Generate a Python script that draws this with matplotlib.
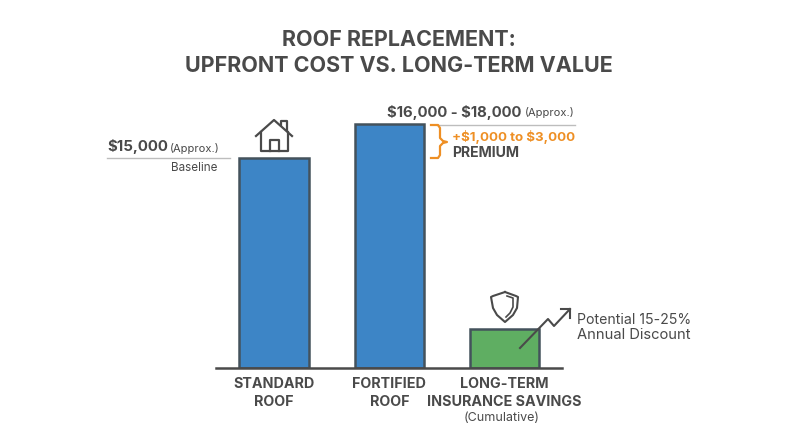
import matplotlib
matplotlib.use('Agg')
import matplotlib.pyplot as plt

plt.rcParams['font.family'] = ['Inter', 'DejaVu Sans']

categories = ['STANDARD\nROOF', 'FORTIFIED\nROOF', 'LONG-TERM\nINSURANCE SAVINGS']
values = [15000, 17400, 2800]
bar_colors = ['#3d85c6', '#3d85c6', '#5fae62']
dark = '#4a4a4a'
edge = '#44525c'
orange = '#ee8f24'
grey_line = '#bdbdbd'

W, H = 800, 447
fig = plt.figure(figsize=(8, 4.47), dpi=100)

# bar axes, baseline at y=368 px
ax = fig.add_axes([216.3 / W, (H - 368) / H, 346 / W, 268 / H])
ax.bar(range(3), values, width=0.6, color=bar_colors, edgecolor=edge, linewidth=1.8, zorder=2)
ax.set_xlim(-0.5, 2.5)
ax.set_ylim(0, 268 * 71.43)
ax.set_yticks([])
ax.set_xticks(range(3))
ax.set_xticklabels(categories, fontsize=10.3, fontweight='bold', color=dark, linespacing=1.35)
ax.tick_params(axis='x', length=0, pad=6.5)
for s in ['top', 'left', 'right']:
    ax.spines[s].set_visible(False)
ax.spines['bottom'].set_color(dark)
ax.spines['bottom'].set_linewidth(1.8)
ax.patch.set_alpha(0)

# overlay in pixel coordinates for the notes and icons
ov = fig.add_axes([0, 0, 1, 1])
ov.set_xlim(0, W)
ov.set_ylim(H, 0)
ov.axis('off')
ov.patch.set_alpha(0)

ov.text(399, 40, 'ROOF REPLACEMENT:', ha='center', va='center', fontsize=15.5, fontweight='bold', color=dark)
ov.text(399, 66, 'UPFRONT COST VS. LONG-TERM VALUE', ha='center', va='center', fontsize=15.5, fontweight='bold', color=dark)

ov.text(464, 418, '(Cumulative)', ha='left', va='center', fontsize=9, color=dark)

# standard roof note
ov.text(107, 146, r'\$15,000', ha='left', va='center', fontsize=10.8, fontweight='bold', color=dark)
ov.text(170, 148, '(Approx.)', ha='left', va='center', fontsize=8, color=dark)
ov.plot([107, 230], [158, 158], color=grey_line, lw=1)
ov.text(218, 168, 'Baseline', ha='right', va='center', fontsize=8.4, color=dark)

# fortified roof note
ov.text(387, 112, r'\$16,000 - \$18,000', ha='left', va='center', fontsize=10.7, fontweight='bold', color=dark)
ov.text(525, 113, '(Approx.)', ha='left', va='center', fontsize=8, color=dark)
ov.plot([437, 575], [124.5, 124.5], color=grey_line, lw=1)
ov.text(452, 137, r'+\$1,000 to \$3,000', ha='left', va='center', fontsize=9.6, fontweight='bold', color=orange)
ov.text(452, 153, 'PREMIUM', ha='left', va='center', fontsize=10.2, fontweight='bold', color=dark)

# brace
ov.plot([431, 438, 440, 440, 443, 447, 443, 440, 440, 438, 431],
        [125, 125, 128, 138, 141, 142, 143, 146, 155, 158, 158], color=orange, lw=1.6)

# savings note
ov.text(577, 320, 'Potential 15-25%', ha='left', va='center', fontsize=10.2, color=dark)
ov.text(577, 335, 'Annual Discount', ha='left', va='center', fontsize=10.6, color=dark)

# arrow
ov.plot([520, 548, 554, 570], [348, 319, 326, 309], color=dark, lw=1.5)
ov.plot([561, 570, 570], [309, 309, 318], color=dark, lw=1.5)

# house
ov.plot([256, 274, 292], [136, 120, 136], color=dark, lw=1.6)
ov.plot([281, 281, 287, 287], [125, 121, 121, 130], color=dark, lw=1.6)
ov.plot([261, 261, 288, 288], [132, 151, 151, 132], color=dark, lw=1.6)
ov.plot([270, 270, 279, 279], [151, 140, 140, 151], color=dark, lw=1.6)

# shield
ov.plot([505, 516, 518, 517, 513, 505, 497, 493, 491, 493, 505],
        [292, 296, 297, 308, 315, 322, 315, 308, 297, 296, 292], color=dark, lw=1.5)
ov.plot([507, 513, 513, 510, 506], [296, 298, 307, 313, 317], color=dark, lw=1.2)

fig.savefig('out.png', dpi=100)
